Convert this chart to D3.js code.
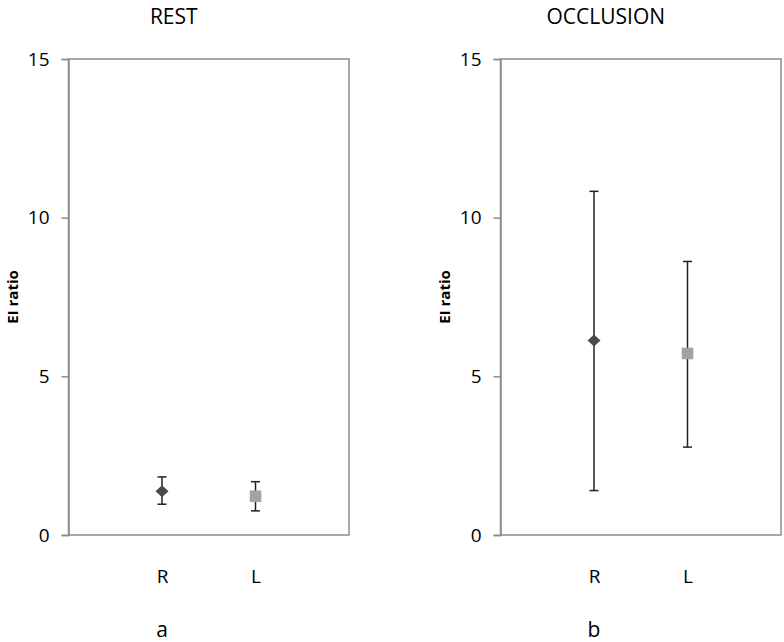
<!DOCTYPE html>
<html>
<head>
<meta charset="utf-8">
<script src="https://d3js.org/d3.v7.min.js"></script>
<style>
body{margin:0;background:#fff;}
text{font-family:"Open Sans",Calibri,sans-serif;fill:#000;}
</style>
</head>
<body>
<svg id="chart" width="784" height="642"></svg>
<script>
// data
var panels = ['REST','OCCLUSION'];
var panelLetters = ['a','b'];
var sides = ['R','L'];
var yTicks = [0,5,10,15];
var restMean = [1.38, 1.22];
var restLow = [0.97, 0.76];
var restHigh = [1.83, 1.68];
var occMean = [6.13, 5.72];
var occLow = [1.40, 2.77];
var occHigh = [10.83, 8.62];

var means = [restMean, occMean];
var lows = [restLow, occLow];
var highs = [restHigh, occHigh];

var svg = d3.select('#chart');
var plotTop = 59, plotBottom = 535;
var lefts = [68.5, 500.5];
var pw = 280.5;

var yScale = d3.scaleLinear().domain([0,15]).range([plotBottom, plotTop]);
var markColors = ['#4a4a4a','#a3a3a3'];

panels.forEach(function(name, p){
	var x0 = lefts[p];
	var xScale = d3.scalePoint().domain(sides).range([x0 + pw/3, x0 + 2*pw/3]);
	var g = svg.append('g');

	// plot frame
	g.append('rect')
	.attr('x', x0).attr('y', plotTop)
	.attr('width', pw).attr('height', plotBottom-plotTop)
	.attr('fill','none').attr('stroke','#8c8c8c').attr('stroke-width',1.5);

	var yAxis = d3.axisLeft(yScale).tickValues(yTicks).tickSize(7).tickPadding(12);
	var ya = g.append('g').attr('transform','translate('+x0+',0)').call(yAxis)
	.attr('font-size',19).attr('font-family','"Open Sans",sans-serif');
	ya.select('.domain').attr('stroke','#8c8c8c').attr('stroke-width',1.5);
	ya.selectAll('.tick line').attr('stroke','#8c8c8c').attr('stroke-width',1.5);

	var xAxis = d3.axisBottom(xScale).tickSize(0).tickPadding(35);
	var xa = g.append('g').attr('transform','translate(0,'+plotBottom+')').call(xAxis)
	.attr('font-size',19).attr('font-family','"Open Sans",sans-serif');
	xa.select('.domain').remove();

	// title
	g.append('text')
	.attr('x', x0 + pw/2 - 35)
	.attr('y', 24)
	.attr('text-anchor','middle')
	.attr('font-size',21)
	.text(name);

	// panel letter
	g.append('text')
	.attr('x', xScale('R'))
	.attr('y', 637)
	.attr('text-anchor','middle')
	.attr('font-size',21)
	.text(panelLetters[p]);

	// y title
	g.append('text')
	.attr('transform','translate('+(x0-51)+','+((plotTop+plotBottom)/2)+') rotate(-90)')
	.attr('text-anchor','middle')
	.attr('font-size',15)
	.attr('font-weight','bold')
	.text('EI ratio');

	// error bars
	sides.forEach(function(s, i){
		var cx = xScale(s);
		var cy = yScale(means[p][i]);
		var eb = g.append('g').attr('stroke','#222').attr('stroke-width',1.5);
		eb.append('line').attr('x1',cx).attr('x2',cx)
		.attr('y1',yScale(lows[p][i])).attr('y2',yScale(highs[p][i]));
		[lows[p][i], highs[p][i]].forEach(function(v){
			eb.append('line').attr('x1',cx-4.5).attr('x2',cx+4.5)
			.attr('y1',yScale(v)).attr('y2',yScale(v));
		});
		if(i==0){
			g.append('path')
			.attr('d','M0,-6L6.5,0L0,6L-6.5,0Z')
			.attr('transform','translate('+cx+','+cy+')')
			.attr('fill', markColors[i]);
		} else {
			g.append('rect')
			.attr('x', cx-5.8).attr('y', cy-5.8)
			.attr('width',11.6).attr('height',11.6)
			.attr('fill', markColors[i]);
		}
	});
});
</script>
</body>
</html>
